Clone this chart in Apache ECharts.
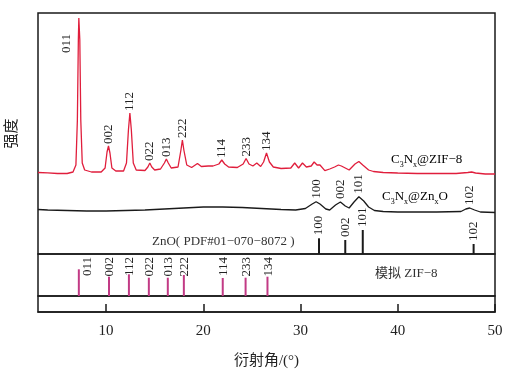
<!DOCTYPE html>
<html><head><meta charset="utf-8">
<script src="https://cdn.jsdelivr.net/npm/echarts@6/dist/echarts.min.js"></script>
<style>html,body{margin:0;padding:0;background:#fff}#c{width:506px;height:371px}</style>
</head><body><div id="c"></div><script>
// ---- data ----
const xTicks = [10, 20, 30, 40, 50];

// C3Nx@ZIF-8 (2theta, intensity a.u.)
const redCurve = [
[3.0,81.5],[4.0,81.2],[5.0,80.5],[6.0,80.5],[6.6,82],[6.9,89],[7.05,134],[7.15,214],[7.2,236],[7.3,214],[7.4,134],[7.55,91],[7.8,84],
[8.5,82],[9.5,82],[9.9,86],[10.1,102],[10.25,108],[10.4,101],[10.6,86],[11,83],[11.8,83],[12.1,91],[12.3,124],[12.45,141],[12.6,124],
[12.8,91],[13.1,84],[14.0,83.5],[14.3,87],[14.5,91],[14.7,87],[15.0,84],[15.6,85],[16.0,91],[16.2,95],[16.4,91],[16.7,86],[17.4,87],
[17.7,104],[17.85,114],[18.0,104],[18.3,89],[18.8,86.5],[19.4,90.5],[19.8,87.5],[20.5,88],[21.0,88],[21.6,90],[21.9,94],[22.2,90],
[22.6,87],[23.5,86.5],[24.1,90],[24.4,95.5],[24.7,90],[25.1,88],[25.5,91],[25.9,87.5],[26.2,92],[26.5,101],[26.8,92],[27.2,87],
[28.0,85.5],[29.0,86],[29.4,91],[29.8,86],[30.2,91],[30.6,87],[31.1,88],[31.4,92],[31.7,89],[32.0,89],[32.5,83.3],[33.0,85],
[33.5,87],[33.9,89],[34.2,88],[34.4,89],[35.0,84],[35.6,90],[36.0,92.5],[36.4,89],[37.0,84],[37.5,82.5],[38.5,81.5],[40,81],
[42,80.5],[44,80.5],[46,80.5],[47.2,81.5],[47.6,82],[48.0,81],[49,80],[50,80]
];
// C3Nx@ZnxO
const blackCurve = [
[3.0,44.5],[4,44],[6,43.5],[8,43],[10,43],[12,43.5],[14,44],[16,45],[18,46],[20,47],[22,47],[24,46.5],[26,45.5],[28,44.5],
[29.5,44],[30.5,45.5],[31.2,50],[31.6,52.3],[32.0,50],[32.6,45],[33.0,44],[33.6,49],[34.1,52],[34.6,48],[35.0,46],[35.5,52],
[36.0,57.3],[36.5,53],[37.0,47],[37.6,43.5],[38.5,42.5],[40,42],[44,42],[46.5,42.5],[47.0,45],[47.4,46],[47.9,44],[48.5,42],[50,41.5]
];
const redPeakLabels = ['011','002','112','022','013','222','114','233','134'];
const redPeakX = [7.2, 10.25, 12.45, 14.5, 16.2, 17.85, 21.9, 24.4, 26.5];
const redPeakY = [236, 108, 141, 91, 95, 114, 94, 95.5, 101];

const blackPeakLabels = ['100','002','101','102'];
const blackPeakX = [31.6, 34.1, 36.0, 47.4];
const blackPeakY = [52.3, 52, 57.3, 46];

// ZnO reference (PDF#01-070-8072)
const znoLabels = ['100','002','101','102'];
const znoX = [31.9, 34.6, 36.4, 47.8];
const znoI = [15.7, 14, 24, 10];

// simulated ZIF-8
const zifLabels = ['011','002','112','022','013','222','114','233','134'];
const zifX = [7.2, 10.3, 12.35, 14.4, 16.35, 18.0, 22.0, 24.35, 26.6];
const zifI = [26.7, 19.3, 21.7, 18.3, 18.3, 21, 18, 18.3, 19.3];

// ---- chart ----
const FONT = '"Liberation Serif", "Times New Roman", "Noto Sans CJK SC", serif';
const TXT = '#222';
const chart = echarts.init(document.getElementById('c'));

function labelSeries(xi, yi, xs, ys, texts, align, dx, dy, special) {
  return {
    type: 'custom', xAxisIndex: xi, yAxisIndex: yi, silent: true, clip: false, z: 5,
    data: xs.map((x, i) => [x, ys[i], i]),
    renderItem(params, api) {
      const i = api.value(2);
      const p = api.coord([api.value(0), api.value(1)]);
      let ox = dx, oy = dy;
      if (special && special[texts[i]]) { ox = special[texts[i]][0]; oy = special[texts[i]][1]; }
      return { type: 'text', x: p[0] + ox, y: p[1] + oy, rotation: Math.PI / 2,
        style: { text: texts[i], fontFamily: FONT, fontSize: 13, fill: TXT, align: align, verticalAlign: 'middle' } };
    }
  };
}
function stickSeries(xi, yi, xs, hs, color) {
  return {
    type: 'custom', xAxisIndex: xi, yAxisIndex: yi, silent: true, z: 4,
    data: xs.map((x, i) => [x, hs[i]]),
    renderItem(params, api) {
      const a = api.coord([api.value(0), 0]);
      const b = api.coord([api.value(0), api.value(1)]);
      return { type: 'line', shape: { x1: a[0], y1: a[1], x2: b[0], y2: b[1] }, style: { stroke: color, lineWidth: 2 } };
    }
  };
}

const gridBase = { left: 38, width: 457, show: true, borderColor: '#1a1a1a', borderWidth: 1.5,
  backgroundColor: 'transparent', containLabel: false, outerBoundsMode: 'none' };
const hiddenX = (g) => ({ type: 'value', gridIndex: g, min: 3, max: 50, show: false });

const richName = {
  n: { fontFamily: FONT, fontSize: 13, color: '#333', lineHeight: 15, verticalAlign: 'bottom' },
  s: { fontFamily: FONT, fontSize: 8, color: '#333', lineHeight: 15, verticalAlign: 'bottom', padding: [0, 0, -2, 0] }
};

chart.setOption({
  animation: false,
  backgroundColor: '#fff',
  grid: [
    Object.assign({ top: 13, height: 241 }, gridBase),
    Object.assign({ top: 254, height: 42 }, gridBase),
    Object.assign({ top: 296, height: 16 }, gridBase)
  ],
  xAxis: [
    hiddenX(0), hiddenX(1),
    { type: 'value', gridIndex: 2, min: 3, max: 50,
      axisLine: { show: true, lineStyle: { color: '#1a1a1a', width: 1.5 } },
      axisTick: { show: true, inside: true, length: 8, customValues: xTicks, lineStyle: { color: '#1a1a1a', width: 1.5 } },
      axisLabel: { customValues: xTicks, fontFamily: FONT, fontSize: 15, color: TXT, margin: 12 },
      splitLine: { show: false },
      name: '衍射角/(°)', nameLocation: 'middle', nameGap: 42,
      nameTextStyle: { fontFamily: FONT, fontSize: 15, color: TXT } }
  ],
  yAxis: [
    { type: 'value', gridIndex: 0, min: 0, max: 241,
      axisLine: { show: false }, axisTick: { show: false }, axisLabel: { show: false }, splitLine: { show: false },
      name: '强度', nameLocation: 'middle', nameGap: 18, nameRotate: 90,
      nameTextStyle: { fontFamily: FONT, fontSize: 15, color: TXT } },
    { type: 'value', gridIndex: 1, min: 0, max: 42, show: false },
    { type: 'value', gridIndex: 2, min: 0, max: 1, show: false }
  ],
  graphic: [
    { type: 'text', x: 391, y: 159, style: { text: '{n|C}{s|3}{n|N}{s|x}{n|@ZIF−8}', rich: richName, align: 'left', verticalAlign: 'middle' } },
    { type: 'text', x: 382, y: 196, style: { text: '{n|C}{s|3}{n|N}{s|x}{n|@Zn}{s|x}{n|O}', rich: richName, align: 'left', verticalAlign: 'middle' } },
    { type: 'text', x: 152, y: 242, style: { text: 'ZnO( PDF#01−070−8072 )', fontFamily: FONT, fontSize: 13, fill: '#333', align: 'left', verticalAlign: 'middle' } },
    { type: 'text', x: 375, y: 274, style: { text: '模拟 ZIF−8', fontFamily: FONT, fontSize: 13, fill: '#333', align: 'left', verticalAlign: 'middle' } }
  ],
  series: [
    { type: 'line', xAxisIndex: 0, yAxisIndex: 0, data: redCurve, showSymbol: false, silent: true,
      lineStyle: { color: '#e01e3c', width: 1.3 } },
    { type: 'line', xAxisIndex: 0, yAxisIndex: 0, data: blackCurve, showSymbol: false, silent: true,
      lineStyle: { color: '#1a1a1a', width: 1.3 } },
    stickSeries(0, 0, znoX, znoI, '#1a1a1a'),
    stickSeries(1, 1, zifX, zifI, '#c23a85'),
    labelSeries(0, 0, redPeakX, redPeakY, redPeakLabels, 'left', 0, -2, { '011': [-12, 35] }),
    labelSeries(0, 0, blackPeakX, blackPeakY, blackPeakLabels, 'left', 0, -3),
    labelSeries(0, 0, znoX, znoI, znoLabels, 'left', 0, -3),
    labelSeries(1, 1, zifX, zifX.map(() => 42), zifLabels, 'right', 1, 3, { '011': [9, 3] })
  ]
});
</script></body></html>
